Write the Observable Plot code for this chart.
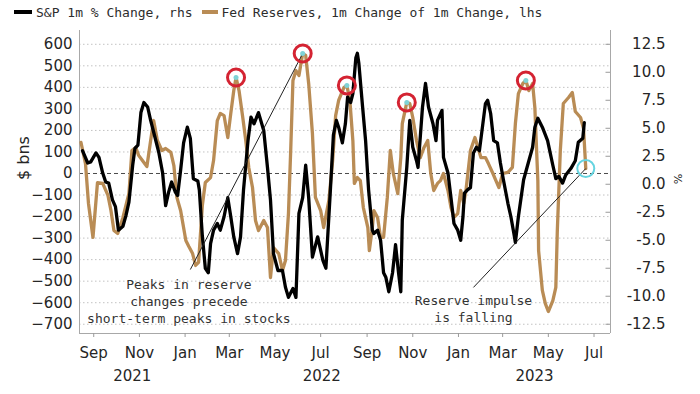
<!DOCTYPE html>
<html><head><meta charset="utf-8">
<script src="https://cdn.jsdelivr.net/npm/d3@7"></script>
<script src="https://cdn.jsdelivr.net/npm/@observablehq/plot@0.6"></script>
<style>
body{margin:0;background:#fff;width:700px;height:394px;overflow:hidden;}
#legend{height:24px;display:flex;align-items:center;font-family:"DejaVu Sans Mono";font-size:13px;color:#2d2d2d;padding-left:14px;box-sizing:border-box;white-space:nowrap;}
.sw{display:inline-block;height:4px;margin-right:4px;}
#chart svg{display:block;}
</style></head><body>
<div id="legend"></div>
<div id="chart"></div>
<script>
// ---- data ----
const legendLabels = ["S&P 1m % Change, rhs", "Fed Reserves, 1m Change of 1m Change, lhs"];

const spDates = ["2021-08-17","2021-08-24","2021-08-28","2021-09-04","2021-09-08","2021-09-13","2021-09-17","2021-09-21","2021-09-26","2021-09-30",
"2021-10-04","2021-10-10","2021-10-14","2021-10-18","2021-10-23","2021-10-26","2021-10-30","2021-11-03","2021-11-07","2021-11-12",
"2021-11-16","2021-11-21","2021-11-27","2021-12-02","2021-12-06","2021-12-10","2021-12-14","2021-12-19","2021-12-22","2021-12-26",
"2021-12-30","2022-01-04","2022-01-08","2022-01-12","2022-01-18","2022-01-20","2022-01-24","2022-01-28","2022-02-01","2022-02-04",
"2022-02-08","2022-02-13","2022-02-17","2022-02-22","2022-02-27","2022-03-03","2022-03-07","2022-03-12","2022-03-16","2022-03-20",
"2022-03-26","2022-03-30","2022-04-03","2022-04-09","2022-04-16","2022-04-21","2022-04-25","2022-04-29","2022-05-05","2022-05-11",
"2022-05-15","2022-05-19","2022-05-25","2022-05-29","2022-06-02","2022-06-07","2022-06-11","2022-06-15","2022-06-20","2022-06-27",
"2022-07-04","2022-07-08","2022-07-14","2022-07-18","2022-07-22","2022-07-25","2022-07-30","2022-08-03","2022-08-06","2022-08-10",
"2022-08-13","2022-08-17","2022-08-19","2022-08-21","2022-08-26","2022-08-30","2022-09-03","2022-09-08","2022-09-10","2022-09-15",
"2022-09-19","2022-09-23","2022-09-26","2022-09-30","2022-10-05","2022-10-09","2022-10-13","2022-10-16","2022-10-18","2022-10-24",
"2022-10-28","2022-11-01","2022-11-06","2022-11-08","2022-11-14","2022-11-18","2022-11-22","2022-11-28","2022-12-02","2022-12-04",
"2022-12-10","2022-12-12","2022-12-18","2022-12-22","2022-12-26","2022-12-31","2023-01-04","2023-01-07","2023-01-09","2023-01-13",
"2023-01-17","2023-01-21","2023-01-25","2023-01-29","2023-02-06","2023-02-09","2023-02-13","2023-02-17","2023-02-22","2023-02-26",
"2023-03-02","2023-03-08","2023-03-12","2023-03-16","2023-03-18","2023-03-22","2023-03-29","2023-04-05","2023-04-10","2023-04-13",
"2023-04-17","2023-04-23","2023-04-30","2023-05-07","2023-05-11","2023-05-15","2023-05-20","2023-05-24","2023-05-31","2023-06-06",
"2023-06-10","2023-06-16","2023-06-18"];
const spValues = [3.0,1.9,2.0,2.8,2.4,1.0,0.2,0.1,-1.4,-2.0,
-4.1,-3.75,-2.8,-1.6,1.7,3.2,3.5,6.4,7.3,6.9,
5.7,4.4,2.8,1.0,-1.9,-0.7,0.2,-0.7,-1.0,1.25,
3.7,5.1,4.1,0.5,0.3,-0.5,-4.6,-7.5,-7.9,-5.3,
-4.1,-3.5,-4.1,-2.9,-1.2,-2.9,-4.7,-6.2,-4.7,-0.5,
3.9,6.0,5.4,6.4,4.8,1.5,-1.4,-6.2,-7.7,-7.7,
-9.2,-10.1,-9.3,-10.1,-2.6,-1.2,1.7,-1.2,-6.5,-4.7,
-6.8,-7.5,-0.5,4.4,5.7,5.1,3.7,5.4,7.8,7.3,
8.1,11.3,11.7,10.8,6.9,3.9,-0.5,-4.1,-4.4,-4.1,
-5.0,-7.9,-8.3,-9.6,-7.9,-5.4,-7.9,-9.6,-3.2,1.5,
5.7,3.3,2.1,1.5,6.9,9.0,6.9,5.4,3.9,5.7,
6.6,2.4,1.0,-1.2,-3.5,-4.1,-5.0,-2.9,-0.8,-0.5,
-0.3,2.8,3.3,3.0,7.2,7.5,6.3,3.9,3.7,1.9,
0.4,-1.7,-2.9,-4.4,-5.2,-2.9,0.4,2.1,3.3,5.1,
5.9,5.1,3.9,1.7,0.5,0.7,0.1,0.8,1.4,2.1,
3.75,4.1,5.5];

const resDates = ["2021-08-15","2021-08-21","2021-08-25","2021-08-31","2021-09-06","2021-09-13","2021-09-20","2021-09-24","2021-09-28","2021-10-03",
"2021-10-10","2021-10-18","2021-10-22","2021-10-27","2021-10-31","2021-11-05","2021-11-11","2021-11-16","2021-11-20","2021-11-25",
"2021-12-01","2021-12-06","2021-12-13","2021-12-17","2021-12-21","2021-12-26","2022-01-02","2022-01-06","2022-01-11","2022-01-15",
"2022-01-19","2022-01-24","2022-01-28","2022-02-04","2022-02-08","2022-02-13","2022-02-17","2022-02-22","2022-02-27","2022-03-03",
"2022-03-07","2022-03-10","2022-03-14","2022-03-19","2022-03-23","2022-03-27","2022-04-01","2022-04-05","2022-04-09","2022-04-16",
"2022-04-21","2022-04-25","2022-04-29","2022-05-06","2022-05-11","2022-05-15","2022-05-19","2022-05-22","2022-05-25","2022-05-29",
"2022-06-02","2022-06-07","2022-06-11","2022-06-15","2022-06-20","2022-06-24","2022-07-01","2022-07-05","2022-07-12","2022-07-17",
"2022-07-21","2022-07-25","2022-08-01","2022-08-05","2022-08-09","2022-08-13","2022-08-15","2022-08-19","2022-08-23","2022-08-27",
"2022-09-02","2022-09-04","2022-09-08","2022-09-10","2022-09-15","2022-09-19","2022-09-23","2022-09-28","2022-10-02","2022-10-06",
"2022-10-12","2022-10-16","2022-10-18","2022-10-24","2022-10-28","2022-11-01","2022-11-06","2022-11-11","2022-11-16","2022-11-21",
"2022-11-25","2022-11-29","2022-12-04","2022-12-08","2022-12-12","2022-12-18","2022-12-22","2022-12-26","2022-12-31","2023-01-04",
"2023-01-08","2023-01-11","2023-01-17","2023-01-23","2023-01-27","2023-01-31","2023-02-06","2023-02-10","2023-02-16","2023-02-20",
"2023-02-24","2023-03-01","2023-03-08","2023-03-14","2023-03-18","2023-03-22","2023-03-28","2023-04-01","2023-04-05","2023-04-10",
"2023-04-13","2023-04-17","2023-04-18","2023-04-23","2023-04-27","2023-05-01","2023-05-07","2023-05-11","2023-05-13","2023-05-17",
"2023-05-21","2023-05-28","2023-06-02","2023-06-06","2023-06-13","2023-06-17","2023-06-20"];
const resValues = [144,46,-139,-297,-42,-46,-102,-172,-265,-279,
-204,-93,107,121,84,60,32,153,246,153,
107,116,98,37,-111,-172,-311,-339,-372,-427,
-413,-149,-42,-19,60,246,279,269,167,279,
385,446,385,260,153,28,-65,-218,-265,-218,
-251,-483,-344,-372,-450,-404,-186,107,432,478,
455,557,548,418,186,-111,-172,-251,-125,60,
269,339,399,409,339,153,-46,-19,-33,-158,
-251,-358,-251,-172,-204,-297,-297,-111,107,0,
-93,74,232,330,325,260,153,74,121,153,
0,-79,-46,-33,0,-79,-158,-204,-186,-79,
-139,-79,107,167,121,74,74,46,0,-33,
-65,0,5,28,232,371,418,432,385,418,
306,-33,-358,-543,-604,-641,-590,-529,-265,107,
325,353,376,288,260,209,23];

const leftTicks = [-700,-600,-500,-400,-300,-200,-100,0,100,200,300,400,500,600];
const rightTicks = [-12.5,-10,-7.5,-5,-2.5,0,2.5,5,7.5,10,12.5];
const peakDates = ["2022-03-10","2022-06-07","2022-08-05","2022-10-24","2023-04-01"];

const annoLabels = ["Peaks in reserve\nchanges precede\nshort-term peaks in stocks", "Reserve impulse\nis falling"];
const annoTextDates = ["2022-01-06","2023-01-21"];
const annoTextValues = [-590,-627];
const annoLineDates = ["2022-01-08","2023-01-21"];
const annoLineValues = [-446,-529];

// ---- build ----
const tan = "#b98c55";
const xDomain = [new Date("2021-08-13"), new Date("2023-07-23")];
const yDomain = [-743, 664];
const rhs = d3.scaleLinear().domain([-12.5, 12.5]).range([-700, 600]);

const sp = spDates.map((d,i)=>({date:new Date(d), value:spValues[i]}));
const res = resDates.map((d,i)=>({date:new Date(d), value:resValues[i]}));
const findRes = s => res.find(d => +d.date === +new Date(s));
const peaks = peakDates.map(findRes);
const last = res[res.length-1];
const targets = [findRes("2022-06-07"), last];
const annos = annoLabels.map((t,i)=>({
  label:t, tx:new Date(annoTextDates[i]), ty:annoTextValues[i],
  x1:new Date(annoLineDates[i]), y1:annoLineValues[i],
  x2:targets[i].date, y2:targets[i].value
}));
const monthTicks = d3.utcMonth.every(2).range(xDomain[0], xDomain[1]);
const years = [2021,2022,2023].map(y=>{
  const a = Math.max(+xDomain[0], Date.UTC(y,0,1));
  const b = Math.min(+xDomain[1], Date.UTC(y+1,0,1));
  return {year:String(y), date:new Date((a+b)/2)};
});

// legend
const lg = document.getElementById("legend");
[["#000",18,0],[tan,16,9]].forEach(([c,w,ml],i)=>{
  const s = document.createElement("span"); s.className="sw";
  s.style.background=c; s.style.width=w+"px"; s.style.marginLeft=ml+"px";
  lg.appendChild(s);
  const t = document.createElement("span"); t.textContent = legendLabels[i];
  lg.appendChild(t);
});

const chart = Plot.plot({
  width:700, height:370,
  marginTop:6, marginBottom:61, marginLeft:79, marginRight:90,
  style:{fontFamily:"DejaVu Sans", fontSize:"15px", color:"#262626", background:"#fff"},
  x:{type:"utc", domain:xDomain, axis:null},
  y:{domain:yDomain, axis:null},
  marks:[
    Plot.ruleY(leftTicks.filter(d=>d!==0), {stroke:"#c2c2c2", strokeDasharray:"1.5,2.5"}),
    Plot.ruleY([0], {stroke:"#4a4a4a", strokeDasharray:"4,3"}),
    Plot.ruleX(xDomain, {stroke:"#a8a8a8"}),
    Plot.ruleY([yDomain[0]], {stroke:"#a8a8a8"}),
    Plot.ruleY(rightTicks, {y:d=>rhs(d), x1:new Date(+xDomain[1]-6*864e5), x2:xDomain[1], stroke:"#9a9a9a"}),
    Plot.axisY(leftTicks, {anchor:"left", tickSize:0, tickPadding:7, fontSize:15}),
    Plot.text(rightTicks, {y:d=>rhs(d), text:d=>d.toFixed(1), frameAnchor:"right", textAnchor:"end", dx:55, fontSize:15}),
    Plot.text(["%"], {y:()=>rhs(0), frameAnchor:"right", dx:67, rotate:90, fontSize:11}),
    Plot.text(["$ bns"], {frameAnchor:"left", dx:-56, dy:-2, rotate:-90, fontSize:16}),
    Plot.axisX(monthTicks, {anchor:"bottom", tickSize:4, tickFormat:()=>"", stroke:"#9a9a9a"}),
    Plot.axisX(monthTicks, {anchor:"bottom", tickSize:0, tickPadding:14, tickFormat:d3.utcFormat("%b"), fontSize:15}),
    Plot.text(years, {x:"date", text:"year", frameAnchor:"bottom", dy:47, fontSize:15}),
    Plot.line(res, {x:"date", y:"value", stroke:tan, strokeWidth:3.3, strokeLinejoin:"round"}),
    Plot.line(sp, {x:"date", y:d=>rhs(d.value), stroke:"#000", strokeWidth:3.3, strokeLinejoin:"round"}),
    Plot.link(annos, {x1:"x1", y1:"y1", x2:"x2", y2:"y2", stroke:"#222", strokeWidth:1}),
    Plot.dot(peaks, {x:"date", y:"value", r:2.5, fill:"#7fd3d6"}),
    Plot.dot(peaks, {x:"date", y:"value", r:8.5, stroke:"#d42332", strokeWidth:3}),
    Plot.dot([last], {x:"date", y:"value", r:8.5, stroke:"#66d4e0", strokeWidth:2}),
    Plot.text(annos, {x:"tx", y:"ty", text:"label", fontFamily:"DejaVu Sans Mono", fontSize:13, lineHeight:1.3, fill:"#333"})
  ]
});
document.getElementById("chart").appendChild(chart);
</script>
</body></html>
